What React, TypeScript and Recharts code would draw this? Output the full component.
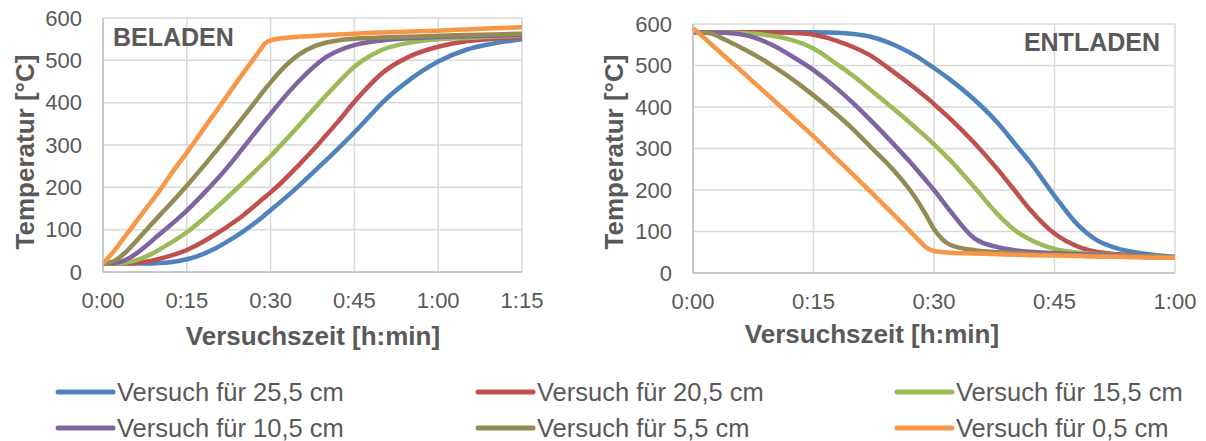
import React from "react";
import { LineChart, Line, XAxis, YAxis, CartesianGrid } from "recharts";

const FONT = "'Liberation Sans', Arial, sans-serif";
const GREY = "#595959";

const SERIES_NAMES = [
  "Versuch für 25,5 cm",
  "Versuch für 20,5 cm",
  "Versuch für 15,5 cm",
  "Versuch für 10,5 cm",
  "Versuch für 5,5 cm",
  "Versuch für 0,5 cm",
];
const SERIES_COLORS = ["#4f81bd", "#c0504d", "#9bbb59", "#8064a2", "#948a54", "#f79646"];

const Y_TICKS = [0, 100, 200, 300, 400, 500, 600];

// BELADEN (charging), time in minutes
const TIME_LOAD = [0, 2, 4, 6, 8, 10, 12, 15, 18, 20, 22, 25, 28, 29, 30, 32, 35, 38, 40, 42, 45, 48, 50, 55, 60, 65, 70, 75];
const LOAD_255 = [20, 20, 20, 20, 20, 21, 23, 30, 43, 55, 70, 95, 124, 135, 146, 168, 203, 240, 265, 290, 330, 372, 400, 455, 497, 525, 540, 550];
const LOAD_205 = [20, 20, 20, 22, 25, 31, 38, 52, 72, 88, 105, 133, 166, 177, 188, 212, 252, 294, 324, 354, 402, 445, 470, 510, 532, 545, 551, 555];
const LOAD_155 = [20, 20, 22, 28, 38, 52, 68, 94, 126, 149, 173, 210, 248, 261, 274, 302, 345, 389, 418, 446, 485, 512, 525, 542, 550, 553, 556, 558];
const LOAD_105 = [20, 21, 28, 44, 65, 88, 110, 145, 185, 213, 243, 292, 342, 358, 374, 406, 450, 488, 508, 522, 536, 544, 547, 552, 555, 557, 558, 560];
const LOAD_55 = [20, 26, 46, 74, 103, 132, 160, 204, 250, 282, 314, 364, 415, 432, 448, 478, 513, 534, 542, 547, 551, 553, 554, 556, 558, 560, 561, 563];
const LOAD_05 = [20, 50, 85, 120, 155, 190, 228, 282, 338, 375, 412, 468, 522, 540, 547, 552, 556, 558, 560, 561, 563, 565, 566, 568, 570, 573, 576, 578];
const LOAD_TICKS = [0, 15, 30, 45, 60, 75];

// ENTLADEN (discharging), time in minutes
const TIME_UNLOAD = [0, 2, 4, 6, 8, 10, 12, 15, 18, 20, 22, 25, 27, 28, 29, 30, 32, 35, 38, 40, 42, 45, 48, 50, 53, 55, 58, 60];
const UNLOAD_255 = [580, 580, 580, 580, 580, 580, 580, 580, 579, 576, 570, 550, 531, 520, 507, 494, 466, 418, 360, 313, 266, 186, 114, 82, 58, 50, 42, 39];
const UNLOAD_205 = [580, 580, 580, 580, 580, 580, 579, 574, 559, 544, 525, 484, 455, 440, 424, 407, 372, 314, 248, 200, 152, 95, 63, 52, 45, 42, 39, 38];
const UNLOAD_155 = [580, 580, 579, 578, 576, 571, 563, 541, 502, 474, 443, 395, 362, 345, 328, 310, 272, 207, 140, 104, 80, 58, 49, 46, 43, 41, 39, 38];
const UNLOAD_105 = [580, 580, 579, 575, 565, 548, 526, 489, 443, 408, 370, 310, 268, 246, 223, 200, 150, 84, 62, 55, 51, 48, 45, 44, 42, 40, 38, 37];
const UNLOAD_55 = [580, 578, 562, 543, 522, 498, 472, 428, 380, 345, 306, 247, 200, 172, 140, 106, 68, 55, 50, 48, 46, 44, 42, 41, 40, 39, 38, 37];
const UNLOAD_05 = [590, 556, 521, 487, 452, 417, 382, 329, 273, 236, 198, 140, 101, 81, 62, 53, 49, 47, 45, 44, 43, 42, 41, 40, 39, 38, 37, 37];
const UNLOAD_TICKS = [0, 15, 30, 45, 60];

const KEYS = ["s255", "s205", "s155", "s105", "s55", "s05"];

function buildRows(times: number[], series: number[][]) {
  return times.map((t, i) => {
    const row: Record<string, number> = { t };
    KEYS.forEach((k, j) => {
      row[k] = series[j][i];
    });
    return row;
  });
}

const loadRows = buildRows(TIME_LOAD, [LOAD_255, LOAD_205, LOAD_155, LOAD_105, LOAD_55, LOAD_05]);
const unloadRows = buildRows(TIME_UNLOAD, [UNLOAD_255, UNLOAD_205, UNLOAD_155, UNLOAD_105, UNLOAD_55, UNLOAD_05]);

const fmtTime = (m: number) => `${Math.floor(m / 60)}:${String(m % 60).padStart(2, "0")}`;

const tickStyle = { fill: GREY, fontSize: 22, fontFamily: FONT };

function TempChart({
  rows,
  ticks,
  width,
  margin,
  xHeight,
}: {
  rows: Record<string, number>[];
  ticks: number[];
  width: number;
  margin: { top: number; right: number; bottom: number; left: number };
  xHeight: number;
}) {
  const maxT = ticks[ticks.length - 1];
  return (
    <LineChart width={width} height={360} data={rows} margin={margin} style={{ fontFamily: FONT }}>
      <CartesianGrid stroke="#d9d9d9" strokeWidth={1.5} />
      <XAxis
        dataKey="t"
        type="number"
        domain={[0, maxT]}
        ticks={ticks}
        tickFormatter={fmtTime}
        tick={tickStyle}
        tickLine={false}
        tickSize={0}
        tickMargin={20}
        height={xHeight}
        stroke="#bfbfbf"
        strokeWidth={1.5}
        interval={0}
      />
      <YAxis
        type="number"
        domain={[0, 600]}
        ticks={Y_TICKS}
        tick={tickStyle}
        tickLine={false}
        tickSize={0}
        tickMargin={21}
        width={103}
        stroke="#bfbfbf"
        strokeWidth={1.5}
        interval={0}
      />
      {KEYS.map((k, i) => (
        <Line
          key={k}
          dataKey={k}
          name={SERIES_NAMES[i]}
          type="monotone"
          stroke={SERIES_COLORS[i]}
          strokeWidth={4.5}
          dot={false}
          isAnimationActive={false}
        />
      ))}
    </LineChart>
  );
}

const LEGEND_COLS = [58, 478, 897];
const LEGEND_ROWS = [392, 428];

export default function App() {
  return (
    <div style={{ position: "absolute", left: 0, top: 0, width: 1206, height: 441, background: "#fff" }}>
      <div style={{ position: "absolute", left: 0, top: 0 }}>
        <TempChart
          rows={loadRows}
          ticks={LOAD_TICKS}
          width={560}
          margin={{ top: 18, right: 38, bottom: 18, left: 0 }}
          xHeight={70}
        />
      </div>
      <div style={{ position: "absolute", left: 590, top: 0 }}>
        <TempChart
          rows={unloadRows}
          ticks={UNLOAD_TICKS}
          width={616}
          margin={{ top: 24, right: 31, bottom: 18, left: 0 }}
          xHeight={69}
        />
      </div>
      <svg
        width={1206}
        height={441}
        style={{ position: "absolute", left: 0, top: 0, pointerEvents: "none", fontFamily: FONT }}
      >
        <text x={113} y={46} fontSize={25} fontWeight="bold" fill={GREY}>
          BELADEN
        </text>
        <text x={1160} y={51} fontSize={25} fontWeight="bold" fill={GREY} textAnchor="end">
          ENTLADEN
        </text>
        <text x={313} y={345} fontSize={26} fontWeight="bold" fill={GREY} textAnchor="middle">
          Versuchszeit [h:min]
        </text>
        <text x={872} y={343} fontSize={26} fontWeight="bold" fill={GREY} textAnchor="middle">
          Versuchszeit [h:min]
        </text>
        <text
          transform="translate(34,152) rotate(-90)"
          fontSize={26}
          fontWeight="bold"
          fill={GREY}
          textAnchor="middle"
        >
          Temperatur [°C]
        </text>
        <text
          transform="translate(623,152) rotate(-90)"
          fontSize={26}
          fontWeight="bold"
          fill={GREY}
          textAnchor="middle"
        >
          Temperatur [°C]
        </text>
        {SERIES_NAMES.map((name, i) => {
          const x = LEGEND_COLS[i % 3];
          const y = LEGEND_ROWS[Math.floor(i / 3)];
          return (
            <g key={name}>
              <line x1={x} x2={x + 55} y1={y} y2={y} stroke={SERIES_COLORS[i]} strokeWidth={5} strokeLinecap="round" />
              <text x={x + 59} y={y + 9} fontSize={25.5} fill={GREY}>
                {name}
              </text>
            </g>
          );
        })}
      </svg>
    </div>
  );
}
